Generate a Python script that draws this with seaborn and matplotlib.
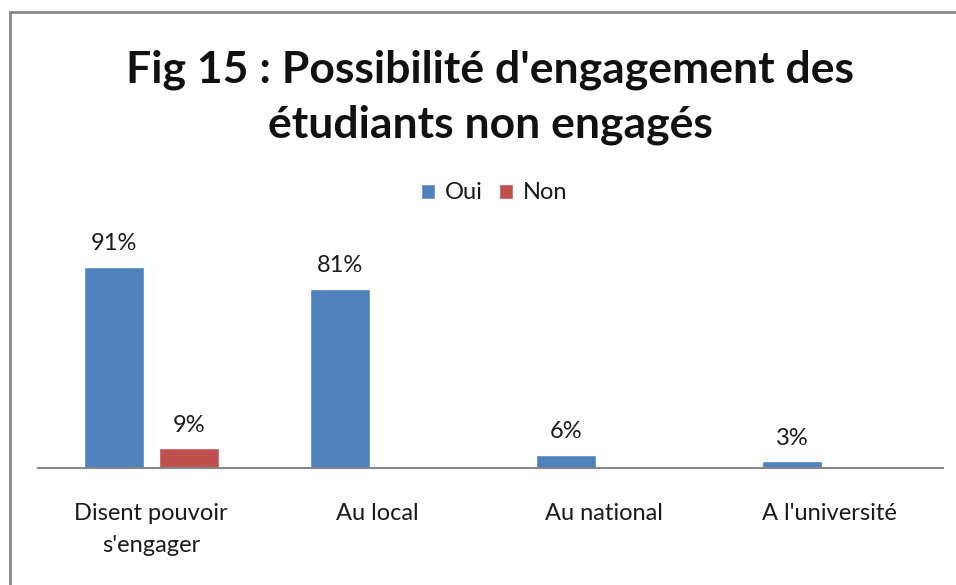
import matplotlib
matplotlib.use("Agg")
import matplotlib.pyplot as plt
import seaborn as sns
import pandas as pd
from matplotlib.patches import Rectangle

categories = ["Disent pouvoir\ns'engager", "Au local", "Au national", "A l'université"]
oui = [91, 81, 6, 3]
non = [9, 0, 0, 0]
series = ["Oui", "Non"]
title = "Fig 15 : Possibilité d'engagement des\nétudiants non engagés"

df = pd.DataFrame({
    "cat": categories * 2,
    "val": oui + non,
    "serie": ["Oui"] * len(categories) + ["Non"] * len(categories),
})

sns.set_theme(style="white")
plt.rcParams['font.family'] = ['Lato', 'DejaVu Sans']

fig = plt.figure(figsize=(9.56, 5.85), dpi=100)
ax = fig.add_axes([38/956, 1-468/585, (943-38)/956, 221/585])

palette = {"Oui": "#4F81BD", "Non": "#C0504D"}
sns.barplot(data=df, x="cat", y="val", hue="serie", hue_order=series,
            palette=palette, width=0.663, gap=0.2, ax=ax, saturation=1,
            order=categories)

ax.set_ylim(0, 100)
ax.set_xlim(-0.5, len(categories) - 0.5)
ax.set_xlabel("")
ax.set_ylabel("")
ax.set_yticks([])
for s in ["top", "right", "left"]:
    ax.spines[s].set_visible(False)
ax.spines["bottom"].set_color("#868686")
ax.spines["bottom"].set_linewidth(1.5)
ax.tick_params(axis="x", length=0, pad=25, labelsize=17, colors="#1a1a1a")
for lab in ax.get_xticklabels():
    lab.set_linespacing(1.65)

for cont in ax.containers:
    for bar in cont:
        h = bar.get_height()
        if h > 0:
            ax.annotate(f"{int(round(h))}%", (bar.get_x() + bar.get_width()/2, h),
                        xytext=(0, 9), textcoords="offset points",
                        ha="center", va="bottom", fontsize=17, color="#1a1a1a",
                        annotation_clip=False)

leg = ax.legend(loc="center", bbox_to_anchor=(494/956, 1-193/585),
                bbox_transform=fig.transFigure, ncol=2, frameon=False,
                fontsize=17, handlelength=0.6, handleheight=0.6,
                handletextpad=0.4, columnspacing=0.7)
for t in leg.get_texts():
    t.set_color("#1a1a1a")

fig.text(490/956, 1-97/585, title, ha="center", va="center", fontsize=32,
         fontweight="bold", color="#111111", linespacing=1.45,
         multialignment="center")

fig.patches.append(Rectangle((10/956, -0.1), 1.2, 1-12/585+0.1,
                             transform=fig.transFigure, fill=False,
                             edgecolor="#888888", linewidth=2))

fig.savefig("out.png", dpi=100)
